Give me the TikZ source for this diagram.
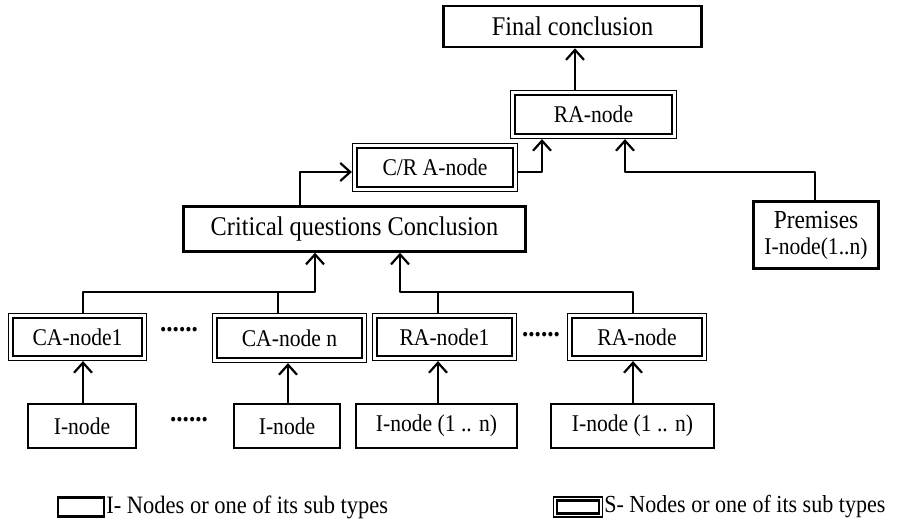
\documentclass[tikz,border=0pt]{standalone}
\usepackage{fontspec}
\setmainfont[FakeStretch=0.9]{Liberation Serif}
\usetikzlibrary{arrows.meta}
\newcommand\nfont{\fontsize{24}{28}\selectfont}
\newcommand\bigfont{\fontsize{27}{30}\selectfont}
\begin{document}
\begin{tikzpicture}[x=1pt,y=-1pt,
  inode/.style={draw, line width=2.5pt, inner sep=0pt, font=\nfont},
  snode/.style={draw, line width=1.2pt, inner sep=0pt, font=\nfont,
    path picture={\draw[line width=2.6pt]
      ([shift={(4.5pt,4.5pt)}]path picture bounding box.south west) rectangle
      ([shift={(-4.5pt,-4.5pt)}]path picture bounding box.north east);}},
  conn/.style={line width=2.2pt, line join=round},
  arr/.style={line width=2.2pt, line join=round, -{Straight Barb[length=10pt,width=18pt,line width=2.2pt]}},
  dots/.style={font=\bfseries\fontsize{28}{30}\selectfont, inner sep=0pt}
]
\useasboundingbox (0,0) rectangle (897,525);

% top
\node[inode, minimum width=258pt, minimum height=41pt] (fc) at (572.5,26.5) {\bigfont Final conclusion};
\node[snode, minimum width=166pt, minimum height=48pt] (ra) at (593.5,114.5) {RA-node};
\node[snode, minimum width=165pt, minimum height=48pt] (cra) at (435,167.5) {C/R A-node};
\node[inode, minimum width=342pt, minimum height=45pt] (cqc) at (354.5,229) {\bigfont Critical questions Conclusion};
\node[inode, minimum width=125pt, minimum height=67pt, align=center] (prem) at (816,235)
  {{\fontsize{26}{27}\selectfont Premises}\\[-2pt]I-node(1..n)};

% S-node row
\node[snode, minimum width=138pt, minimum height=47pt] (ca1) at (77.5,337) {CA-node1};
\node[snode, minimum width=154pt, minimum height=49pt] (can) at (289.5,338) {CA-node n};
\node[snode, minimum width=144pt, minimum height=47pt] (ra1) at (444.5,337) {RA-node1};
\node[snode, minimum width=139pt, minimum height=47pt] (ran) at (637,337) {RA-node};
\node[dots] (d1) at (179,330) {......};
\node[dots] (d2) at (541,335) {......};

% I-node row
\node[inode, minimum width=108pt, minimum height=44pt] (i1) at (82,426) {I-node};
\node[inode, minimum width=106pt, minimum height=44pt] (i2) at (287,426) {I-node};
\node[inode, minimum width=161pt, minimum height=44pt] (i3) at (436.5,426) {I-node (1 .. n)};
\node[inode, minimum width=163pt, minimum height=44pt] (i4) at (632.5,426) {I-node (1 .. n)};
\node[dots] (d3) at (189,420) {......};

% helper coordinates
\coordinate (xfa) at (575,0);
\coordinate (xra1) at (542,0);
\coordinate (xra2) at (625,0);
\coordinate (xcq) at (300,0);
\coordinate (xp) at (815,0);
\coordinate (xl) at (315,0);
\coordinate (xr) at (400,0);
\coordinate (x1) at (83,0);
\coordinate (x2) at (288,0);
\coordinate (x2b) at (278,0);
\coordinate (x3) at (438,0);
\coordinate (x4) at (633,0);
\coordinate (ymid) at (0,172);
\coordinate (ybus) at (0,292);

% connectors
\draw[arr] (ra.north -| xfa) -- (fc.south -| xfa);
\draw[arr] (cra.east |- ymid) -| (ra.south -| xra1);
\draw[arr] (prem.north -| xp) |- (ymid -| xra2) -- (ra.south -| xra2);
\draw[arr] (cqc.north -| xcq) |- (cra.west |- ymid);
\draw[arr] (ca1.north -| x1) |- (ybus -| xl) -- (cqc.south -| xl);
\draw[conn] (can.north -| x2b) -- (ybus -| x2b);
\draw[arr] (ran.north -| x4) |- (ybus -| xr) -- (cqc.south -| xr);
\draw[conn] (ra1.north -| x3) -- (ybus -| x3);
\draw[arr] (i1.north -| x1) -- (ca1.south -| x1);
\draw[arr] (i2.north -| x2) -- (can.south -| x2);
\draw[arr] (i3.north -| x3) -- (ra1.south -| x3);
\draw[arr] (i4.north -| x4) -- (ran.south -| x4);

% legend
\node[inode, line width=2.2pt, minimum width=46pt, minimum height=19pt] (lgi) at (81,507) {};
\node[anchor=west, inner sep=1pt, font=\fontsize{25}{28}\selectfont] (lgit) at (lgi.east) {I- Nodes or one of its sub types};
\node[snode, minimum width=49pt, minimum height=20pt,
  path picture={\draw[line width=2.2pt]
      ([shift={(3.5pt,3.5pt)}]path picture bounding box.south west) rectangle
      ([shift={(-3.5pt,-3.5pt)}]path picture bounding box.north east);}] (lgs) at (578,507) {};
\node[anchor=west, inner sep=1pt, font=\fontsize{24.5}{28}\selectfont] (lgst) at (lgs.east) {S- Nodes or one of its sub types};
\end{tikzpicture}
\end{document}
